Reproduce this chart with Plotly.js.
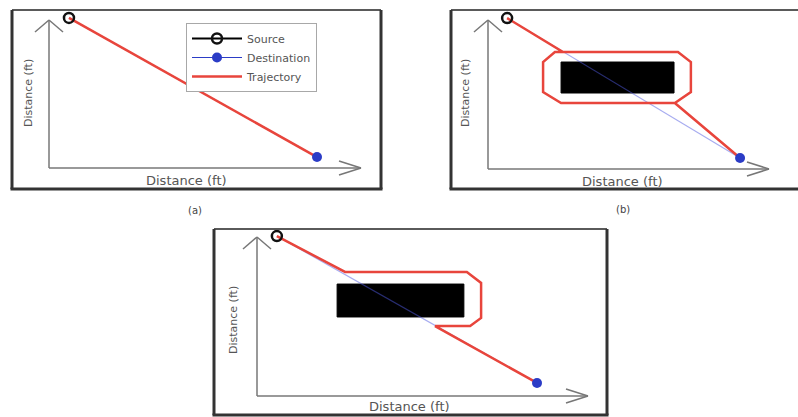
<!DOCTYPE html>
<html>
<head>
<meta charset="utf-8">
<script src="https://cdn.plot.ly/plotly-3.0.1.min.js"></script>
<style>html,body{margin:0;padding:0;background:#fff;}#chart{width:798px;height:417px;}</style>
</head>
<body>
<div id="chart"></div>
<script>
// ---------------- data (ft, axis arrow tip = 100) ----------------
const legendNames = ['Source', 'Destination', 'Trajectory'];
const panelLabels = ['(a)', '(b)', '(c)'];
const axisTitle = 'Distance (ft)';

// panel (a): free space, straight path
const srcA = [6.4, 101.4];
const dstA = [85.9, 7.4];
const trajAX = [6.4, 85.9];
const trajAY = [101.4, 7.4];

// panel (b): full circumnavigation of the obstacle
const srcB = [6.8, 101.3];
const dstB = [89.7, 7.4];
const obsBX = [26.0, 66.2, 66.2, 26.0, 26.0];
const obsBY = [51.0, 51.0, 71.8, 71.8, 51.0];
const trajBX = [6.8, 26.7, 67.6, 72.2, 72.2, 66.5, 26.0, 19.6, 19.6, 23.8, 67.6, 72.2, 72.2, 66.5, 89.7];
const trajBY = [101.3, 78.5, 78.5, 71.8, 51.7, 44.3, 44.3, 51.7, 71.8, 78.5, 78.5, 71.8, 51.7, 44.3, 7.4];

// panel (c): follow boundary until the line to the goal is met again
const srcC = [6.0, 100.6];
const dstC = [84.6, 8.2];
const obsCX = [24.2, 62.5, 62.5, 24.2, 24.2];
const obsCY = [49.7, 49.7, 70.4, 70.4, 49.7];
const trajCX = [6.0, 26.6, 63.4, 67.7, 67.7, 64.4, 53.8, 84.6];
const trajCY = [100.6, 78.0, 78.0, 71.1, 49.1, 44.0, 44.0, 8.2];

// ---------------- layout helpers ----------------
const W = 798, H = 417;
const fx = px => px / W;
const fy = py => 1 - py / H;

// pixel geometry of each panel: axis origin (ox, oy), arrow tips (tx, ty), frame box
const panels = [
  {ox: 49, oy: 168, tx: 361, ty: 20, box: [12, 10, 381, 189],
   xt: [186, 180], yt: [29, 93], lab: [195, 210]},
  {ox: 488, oy: 169, tx: 769, ty: 20, box: [451, 10, 806, 189],
   xt: [622, 182], yt: [466, 93], lab: [623, 209]},
  {ox: 257, oy: 396, tx: 588, ty: 237, box: [214, 229, 607, 415],
   xt: [409, 406], yt: [233, 320], lab: null}
];
const LO = 8, HI = 106;

const RED = '#e8453c';
const BLUE = '#2b3cc6';
const AXC = '#777777';

const layout = {
  width: W, height: H,
  margin: {l: 0, r: 0, t: 0, b: 0},
  paper_bgcolor: '#ffffff',
  plot_bgcolor: 'rgba(0,0,0,0)',
  showlegend: true,
  legend: {
    x: fx(186), y: fy(23), xanchor: 'left', yanchor: 'top',
    bgcolor: '#ffffff', bordercolor: '#a8a8a8', borderwidth: 1,
    font: {family: 'DejaVu Sans', size: 11, color: '#555'},
    tracegroupgap: 0, itemwidth: 50
  },
  shapes: [],
  annotations: []
};

panels.forEach((p, i) => {
  const ux = (p.tx - p.ox) / 100, uy = (p.oy - p.ty) / 100;
  const sfx = i === 0 ? '' : String(i + 1);
  const xa = 'xaxis' + sfx, ya = 'yaxis' + sfx;
  const xr = 'x' + sfx, yr = 'y' + sfx;
  const common = {showgrid: false, zeroline: false, showline: false, showticklabels: false,
                  ticks: '', range: [-LO, HI], fixedrange: true};
  layout[xa] = Object.assign({}, common, {
    domain: [fx(p.ox - LO * ux), fx(p.ox + HI * ux)], anchor: yr});
  layout[ya] = Object.assign({}, common, {
    domain: [fy(p.oy + LO * uy), fy(p.oy - HI * uy)], anchor: xr});

  const axl = {color: AXC, width: 1.5};
  // axis lines
  layout.shapes.push({type: 'line', xref: xr, yref: yr, x0: 0, y0: 0, x1: 100, y1: 0, line: axl});
  layout.shapes.push({type: 'line', xref: xr, yref: yr, x0: 0, y0: 0, x1: 0, y1: 100, line: axl});
  // open arrow heads
  [7, -7].forEach(d => {
    layout.shapes.push({type: 'line', xref: xr, yref: yr, xsizemode: 'pixel', ysizemode: 'pixel',
      xanchor: 100, yanchor: 0, x0: -22, y0: d, x1: 0, y1: 0, line: axl});
  });
  [14, -14].forEach(d => {
    layout.shapes.push({type: 'line', xref: xr, yref: yr, xsizemode: 'pixel', ysizemode: 'pixel',
      xanchor: 0, yanchor: 100, x0: d, y0: -12, x1: 0, y1: 0, line: axl});
  });
  // frame: lighter top edge, heavy left/right/bottom edges
  const b = p.box;
  const heavy = {color: '#333333', width: 3};
  layout.shapes.push({type: 'line', xref: 'paper', yref: 'paper',
    x0: fx(b[0]), y0: fy(b[1]), x1: fx(b[2]), y1: fy(b[1]), line: {color: '#5a5a5a', width: 2}});
  layout.shapes.push({type: 'line', xref: 'paper', yref: 'paper',
    x0: fx(b[0]), y0: fy(b[1]), x1: fx(b[0]), y1: fy(b[3]), line: heavy});
  layout.shapes.push({type: 'line', xref: 'paper', yref: 'paper',
    x0: fx(b[2]), y0: fy(b[1]), x1: fx(b[2]), y1: fy(b[3]), line: heavy});
  layout.shapes.push({type: 'line', xref: 'paper', yref: 'paper',
    x0: fx(b[0] - 1.5), y0: fy(b[3]), x1: fx(b[2] + 1.5), y1: fy(b[3]), line: heavy});
  // axis titles
  layout.annotations.push({xref: 'paper', yref: 'paper', x: fx(p.xt[0]), y: fy(p.xt[1]),
    text: axisTitle, showarrow: false, xanchor: 'center', yanchor: 'middle',
    font: {family: 'DejaVu Sans', size: 13, color: '#555'}});
  layout.annotations.push({xref: 'paper', yref: 'paper', x: fx(p.yt[0]), y: fy(p.yt[1]),
    text: axisTitle, showarrow: false, textangle: -90, xanchor: 'center', yanchor: 'middle',
    font: {family: 'DejaVu Sans', size: 11, color: '#555'}});
  if (p.lab) {
    layout.annotations.push({xref: 'paper', yref: 'paper', x: fx(p.lab[0]), y: fy(p.lab[1]),
      text: panelLabels[i], showarrow: false, xanchor: 'center', yanchor: 'middle',
      font: {family: 'DejaVu Sans', size: 10, color: '#444'}});
  }
});

// ---------------- traces ----------------
const sets = [
  {src: srcA, dst: dstA, tx: trajAX, ty: trajAY, ox: null, oy: null},
  {src: srcB, dst: dstB, tx: trajBX, ty: trajBY, ox: obsBX, oy: obsBY},
  {src: srcC, dst: dstC, tx: trajCX, ty: trajCY, ox: obsCX, oy: obsCY}
];
const traces = [];
sets.forEach((s, i) => {
  const sfx = i === 0 ? '' : String(i + 1);
  const xr = 'x' + sfx, yr = 'y' + sfx;
  const first = i === 0;
  if (s.ox) {
    traces.push({type: 'scatter', mode: 'lines', x: s.ox, y: s.oy, xaxis: xr, yaxis: yr,
      fill: 'toself', fillcolor: '#000000', line: {color: '#000000', width: 1},
      showlegend: false, hoverinfo: 'skip'});
  }
  // direct source-destination line
  traces.push({type: 'scatter', mode: 'lines', x: [s.src[0], s.dst[0]], y: [s.src[1], s.dst[1]],
    xaxis: xr, yaxis: yr, line: {color: 'rgba(80,90,225,0.5)', width: 1.2},
    showlegend: false, hoverinfo: 'skip'});
  traces.push({type: 'scatter', mode: 'lines', name: legendNames[2], x: s.tx, y: s.ty,
    xaxis: xr, yaxis: yr, line: {color: RED, width: 2.5}, showlegend: first, legendrank: 3});
  traces.push({type: 'scatter', mode: 'lines+markers', name: legendNames[0], x: [s.src[0]], y: [s.src[1]],
    xaxis: xr, yaxis: yr, cliponaxis: false, line: {color: '#000000', width: 2},
    marker: {symbol: 'circle-open', size: 10, color: '#111111', line: {width: 2.5}},
    showlegend: first, legendrank: 1});
  traces.push({type: 'scatter', mode: 'lines+markers', name: legendNames[1], x: [s.dst[0]], y: [s.dst[1]],
    xaxis: xr, yaxis: yr, cliponaxis: false, line: {color: BLUE, width: 1.2},
    marker: {symbol: 'circle', size: 10, color: BLUE},
    showlegend: first, legendrank: 2});
});

Plotly.newPlot('chart', traces, layout, {staticPlot: true, displayModeBar: false});
</script>
</body>
</html>
